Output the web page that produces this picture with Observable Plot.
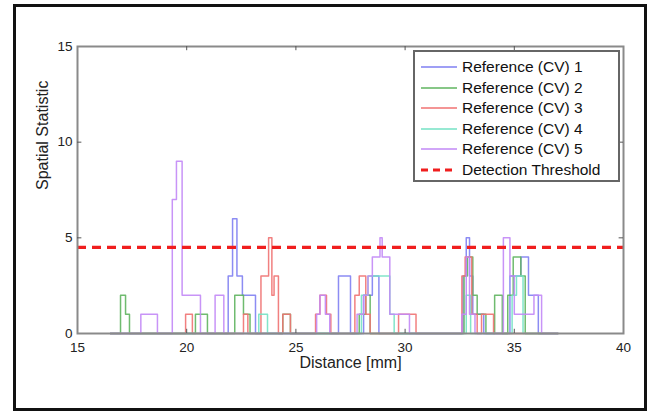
<!DOCTYPE html>
<html>
<head>
<meta charset="utf-8">
<script src="https://cdn.jsdelivr.net/npm/d3@7"></script>
<script src="https://cdn.jsdelivr.net/npm/@observablehq/plot@0.6"></script>
<style>
  html, body { margin: 0; padding: 0; background: #fff; }
  #wrap { position: relative; width: 652px; height: 413px; overflow: hidden; font-family: "Liberation Sans", Arial, sans-serif; }
  #border { position: absolute; left: 13px; top: 4px; width: 628px; height: 401px; border: 3px solid #111; pointer-events: none; }
  #legend { position: absolute; left: 413px; top: 50px; width: 203px; height: 128px; border: 2px solid #666; background: #fff; box-sizing: content-box; }
  .item { position: absolute; left: 0; height: 20px; display: flex; align-items: center; font-size: 15.5px; color: #111; white-space: nowrap; }
  .item svg { margin-left: 6px; margin-right: 5px; }
</style>
</head>
<body>
<div id="wrap">
  <div id="chart"></div>
  <div id="legend"></div>
  <div id="border"></div>
</div>
<script>
// ---- data ----
const seriesNames = ["Reference (CV) 1", "Reference (CV) 2", "Reference (CV) 3", "Reference (CV) 4", "Reference (CV) 5"];
const seriesColors = ["#7f7ff2", "#5fb45f", "#f07272", "#74e2c4", "#c288f6"];
const thresholdLabel = "Detection Threshold";
const threshold = 4.5;
const xTicks = [15, 20, 25, 30, 35, 40];
const yTicks = [0, 5, 10, 15];

// step change points (x in mm) and values starting there
const cv1X = [16.5, 21.9, 22.1, 22.3, 22.55, 23.15, 26.95, 27.5, 28.1, 28.5, 28.8, 32.65, 32.8, 32.95, 33.1, 33.6, 34.8, 35.3, 35.65, 36.1, 37];
const cv1Y = [0, 3, 6, 3, 2, 0, 3, 0, 2, 3, 0, 3, 5, 3, 1, 0, 3, 4, 2, 0, 0];

const cv2X = [16.5, 16.97, 17.2, 17.38, 20.4, 20.95, 22.2, 22.6, 22.9, 24.4, 24.75, 27.9, 28.2, 28.4, 32.7, 32.85, 33.1, 33.3, 33.7, 34.1, 34.45, 34.7, 34.95, 35.3, 35.5, 37];
const cv2Y = [0, 2, 1, 0, 1, 0, 2, 1, 0, 1, 0, 1, 2, 0, 3, 4, 2, 1, 0, 2, 0, 2, 4, 3, 0, 0];

const cv3X = [16.5, 19.95, 20.26, 22.6, 22.8, 23.4, 23.75, 23.9, 24.0, 24.2, 24.4, 24.75, 25.9, 26.1, 26.4, 26.6, 27.7, 27.9, 28.2, 28.4, 29.7, 30.5, 32.6, 32.75, 33.05, 33.3, 33.5, 34.05, 37];
const cv3Y = [0, 1, 0, 1, 0, 3, 5, 2, 3, 0, 1, 0, 1, 2, 1, 0, 2, 3, 1, 0, 1, 0, 3, 4, 1, 0, 1, 0, 0];

const cv4X = [16.5, 23.3, 23.7, 28.0, 28.3, 29.3, 29.5, 32.8, 33.0, 34.9, 35.1, 35.4, 37];
const cv4Y = [0, 1, 0, 2, 3, 1, 0, 2, 0, 2, 3, 0, 0];

const cv5X = [16.5, 17.9, 18.66, 19.34, 19.53, 19.79, 20.63, 21.3, 21.7, 25.95, 26.1, 26.35, 26.55, 27.8, 28.1, 28.3, 28.5, 28.85, 28.95, 29.3, 30.2, 32.6, 32.8, 32.95, 33.2, 34.5, 34.8, 35.0, 35.9, 36.25, 37];
const cv5Y = [0, 1, 0, 7, 9, 2, 0, 2, 0, 1, 2, 1, 0, 1, 2, 3, 4, 5, 4, 1, 0, 1, 4, 1, 0, 5, 3, 1, 2, 0, 0];

// ---- build rows ----
const seriesX = [cv1X, cv2X, cv3X, cv4X, cv5X];
const seriesY = [cv1Y, cv2Y, cv3Y, cv4Y, cv5Y];
const rows = [];
seriesX.forEach((xs, i) => xs.forEach((x, j) => rows.push({series: seriesNames[i], x, y: seriesY[i][j]})));

const fnt = '"Liberation Sans", Arial, sans-serif';

const chart = Plot.plot({
  width: 652,
  height: 413,
  marginLeft: 77,
  marginRight: 29,
  marginTop: 46,
  marginBottom: 80,
  style: {fontFamily: fnt, fontSize: "13.5px", color: "#222", background: "#fff"},
  x: {domain: [15, 40], label: null},
  y: {domain: [0, 15], label: null},
  color: {domain: seriesNames, range: seriesColors},
  marks: [
    Plot.line(rows, {x: "x", y: "y", z: "series", stroke: "series", curve: "step-after", strokeWidth: 1.5, strokeOpacity: 0.9}),
    Plot.ruleY([threshold], {x1: 15, x2: 40, stroke: "#f01e1e", strokeWidth: 3.2, strokeDasharray: "9,6"}),
    Plot.frame({stroke: "#8a8a8a", strokeWidth: 2}),
    // inward ticks, MATLAB style
    Plot.ruleX(xTicks.slice(1, -1), {y1: 0, y2: 0.22, stroke: "#555"}),
    Plot.ruleX(xTicks.slice(1, -1), {y1: 15, y2: 14.78, stroke: "#555"}),
    Plot.ruleY(yTicks.slice(1, -1), {x1: 15, x2: 15.2, stroke: "#555"}),
    Plot.ruleY(yTicks.slice(1, -1), {x1: 40, x2: 39.8, stroke: "#555"}),
    Plot.axisX({ticks: xTicks, tickSize: 0, tickPadding: 9, tickFormat: d => String(d), fontSize: 13.5, label: null}),
    Plot.axisY({ticks: yTicks, tickSize: 0, tickPadding: 5, tickFormat: d => String(d), fontSize: 13.5, label: null}),
    Plot.text(["Distance [mm]"], {frameAnchor: "bottom", dy: 34, text: d => d, fontSize: 16, fill: "#222"}),
    Plot.text(["Spatial Statistic"], {frameAnchor: "left", dx: -35, rotate: -90, text: d => d, fontSize: 16, fill: "#222"})
  ]
});
document.getElementById("chart").appendChild(chart);

// ---- legend ----
const legend = document.getElementById("legend");
const entries = seriesNames.map((n, i) => ({label: n, color: seriesColors[i], dash: null, w: 1.5}))
  .concat([{label: thresholdLabel, color: "#f01e1e", dash: "7,5", w: 3.2}]);
entries.forEach((e, i) => {
  const div = document.createElement("div");
  div.className = "item";
  div.style.top = (5 + i * 20.5) + "px";
  div.innerHTML = `<svg width="36" height="10"><line x1="0" y1="5" x2="36" y2="5" stroke="${e.color}" stroke-width="${e.w}" ${e.dash ? `stroke-dasharray="${e.dash}"` : ""}/></svg><span>${e.label}</span>`;
  legend.appendChild(div);
});
</script>
</body>
</html>
